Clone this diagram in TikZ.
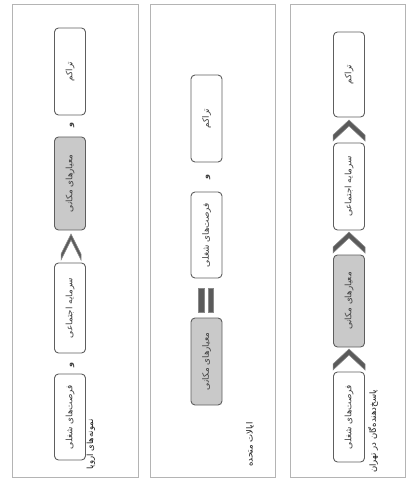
\documentclass[tikz,border=0pt]{standalone}
\usepackage{fontspec}
\newfontfamily\arabicfont[Script=Arabic]{DejaVu Sans}
\TeXXeTstate=1
\definecolor{framegray}{HTML}{B4B4B4}
\definecolor{boxline}{HTML}{5E5E5E}
\definecolor{boxgray}{HTML}{C9C9C9}
\definecolor{chevgray}{HTML}{5A5A5A}
\definecolor{chevline}{HTML}{8A8A8A}
\newcommand{\chevup}[5]{%
  \filldraw[fill=chevgray,draw=chevline,line width=0.5pt]
    (#1,#2) -- ({#1+#3/2},{#2+#4-#5}) -- ({#1+#3/2},{#2+#4}) -- (#1,{#2+#5})
    -- ({#1-#3/2},{#2+#4}) -- ({#1-#3/2},{#2+#4-#5}) -- cycle;}
\tikzset{
  panel/.style={draw=framegray,line width=0.8pt},
  wbox/.style={draw=boxline,line width=0.9pt,fill=white,rounded corners=4pt,rotate=90,
     minimum height=31pt,inner sep=0pt,font=\arabicfont\fontsize{8.8}{10}\selectfont,text=black!75},
  gbox/.style={wbox,fill=boxgray},
  andlbl/.style={rotate=90,inner sep=0pt,font=\arabicfont\bfseries\fontsize{8}{9}\selectfont,text=black!75},
  ttl/.style={rotate=90,anchor=west,inner sep=0pt,font=\arabicfont\fontsize{8.5}{10}\selectfont,text=black!90},
  eqbar/.style={draw=chevline,fill=chevgray,line width=0.5pt}
}
\begin{document}
\begin{tikzpicture}[x=1pt,y=-1pt]
\useasboundingbox (0,0) rectangle (408,481);
% panels
\draw[panel] (12,4) rectangle (138,477);
\draw[panel] (150,4) rectangle (275,477);
\draw[panel] (290,4) rectangle (405,477);
% panel 1
\node[wbox,minimum width=87pt] (t1) at (70,71.5) {\beginR تراکم\endR};
\node[andlbl] (a1) at (72,125) {\beginR و\endR};
\node[gbox,minimum width=93pt] (m1) at (70,183.5) {\beginR معیارهای مکانی\endR};
\chevup{71}{234}{20}{26}{6}
\node[wbox,minimum width=90pt] (s1) at (70,308) {\beginR سرمایه اجتماعی\endR};
\node[andlbl] (a2) at (72,365) {\beginR و\endR};
\node[wbox,minimum width=86pt] (f1) at (70,417) {\beginR فرصت‌های شغلی\endR};
\node[ttl] (l1) at (91,470) {\beginR نمونه‌های اروپا\endR};
% panel 2
\node[wbox,minimum width=87pt] (t2) at (206.5,118.5) {\beginR تراکم\endR};
\node[andlbl] (a3) at (208,177) {\beginR و\endR};
\node[wbox,minimum width=86pt] (f2) at (206.5,235) {\beginR فرصت‌های شغلی\endR};
\filldraw[eqbar] (198.5,288) rectangle (204,312);
\filldraw[eqbar] (208,288) rectangle (213.5,312);
\node[gbox,minimum width=87pt] (m2) at (206.5,361.5) {\beginR معیارهای مکانی\endR};
\node[ttl] (l2) at (250,467) {\beginR ایالات متحده\endR};
% panel 3
\node[wbox,minimum width=85pt] (t3) at (349,74.5) {\beginR تراکم\endR};
\chevup{349}{120}{32}{21}{6}
\node[wbox,minimum width=87pt] (s3) at (349,186.5) {\beginR سرمایه اجتماعی\endR};
\chevup{349}{232}{32}{21}{6}
\node[gbox,minimum width=92pt] (m3) at (349,301) {\beginR معیارهای مکانی\endR};
\chevup{349}{349}{32}{21}{6}
\node[wbox,minimum width=90pt] (f3) at (349,417) {\beginR فرصت‌های شغلی\endR};
\node[ttl] (l3) at (373,473) {\beginR پاسخ‌دهنده‌گان در تهران\endR};
\end{tikzpicture}
\end{document}
